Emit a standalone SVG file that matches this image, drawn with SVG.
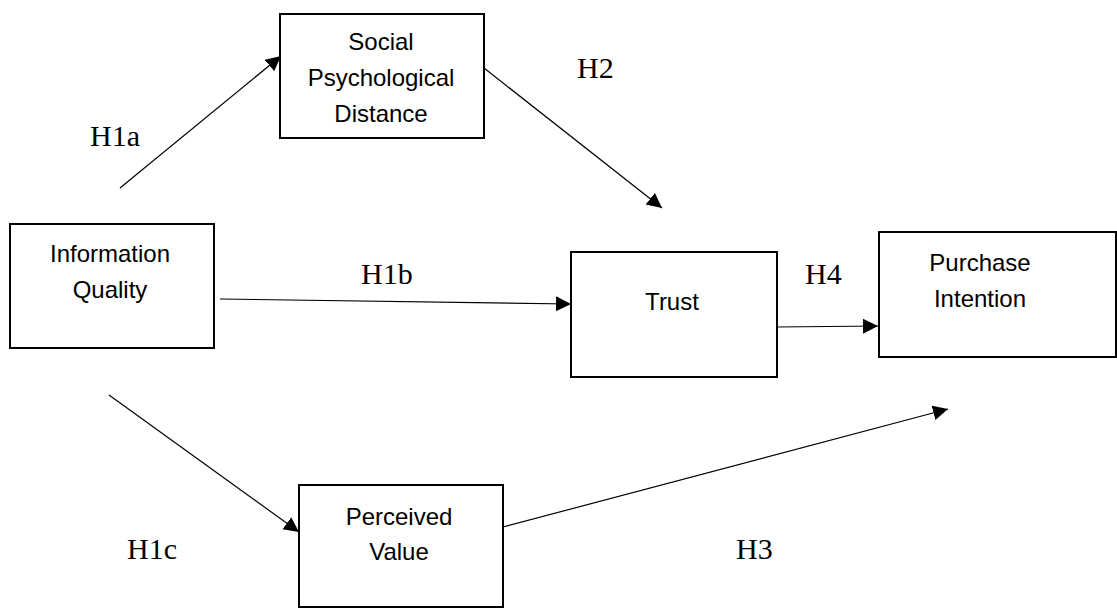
<svg xmlns="http://www.w3.org/2000/svg" width="1117" height="609" viewBox="0 0 1117 609">
<style>
.box{fill:#fff;stroke:#000;stroke-width:2}
.lbl{font-family:"Liberation Sans",Arial,sans-serif;font-size:24px;fill:#000;text-anchor:middle}
.h{font-family:"Liberation Serif","Times New Roman",serif;font-size:30px;fill:#000}
.c{stroke:#000;stroke-width:1.2;fill:none;marker-end:url(#ah)}
</style>
<defs>
<marker id="ah" markerUnits="userSpaceOnUse" markerWidth="16" markerHeight="16" refX="15" refY="7.5" orient="auto">
<path d="M0,0 L15,7.5 L0,15 z" fill="#000"/>
</marker>
</defs>
<rect width="1117" height="609" fill="#fff"/>
<g id="connectors">
<line class="c" x1="120" y1="188" x2="281" y2="56"/>
<line class="c" x1="484" y1="68" x2="662" y2="208"/>
<line class="c" x1="220" y1="299" x2="571" y2="304"/>
<line class="c" x1="777" y1="327" x2="878" y2="326"/>
<line class="c" x1="109" y1="395" x2="299" y2="532"/>
<line class="c" x1="503" y1="527" x2="948" y2="409"/>
</g>
<g id="social">
<rect class="box" x="280" y="14" width="204" height="124"/>
<text class="lbl" x="381" y="50">Social</text>
<text class="lbl" x="381" y="86">Psychological</text>
<text class="lbl" x="381" y="122">Distance</text>
</g>
<g id="info">
<rect class="box" x="10" y="224" width="204" height="124"/>
<text class="lbl" x="110" y="262">Information</text>
<text class="lbl" x="110" y="298">Quality</text>
</g>
<g id="trust">
<rect class="box" x="571" y="252" width="206" height="125"/>
<text class="lbl" x="672" y="310">Trust</text>
</g>
<g id="purchase">
<rect class="box" x="879" y="232" width="237" height="125"/>
<text class="lbl" x="980" y="271">Purchase</text>
<text class="lbl" x="980" y="307">Intention</text>
</g>
<g id="perceived">
<rect class="box" x="299" y="485" width="204" height="122"/>
<text class="lbl" x="399" y="525">Perceived</text>
<text class="lbl" x="399" y="560">Value</text>
</g>
<g id="labels">
<text class="h" x="90" y="146">H1a</text>
<text class="h" x="577" y="78">H2</text>
<text class="h" x="361" y="284">H1b</text>
<text class="h" x="805" y="284">H4</text>
<text class="h" x="127" y="559">H1c</text>
<text class="h" x="736" y="559">H3</text>
</g>
</svg>
